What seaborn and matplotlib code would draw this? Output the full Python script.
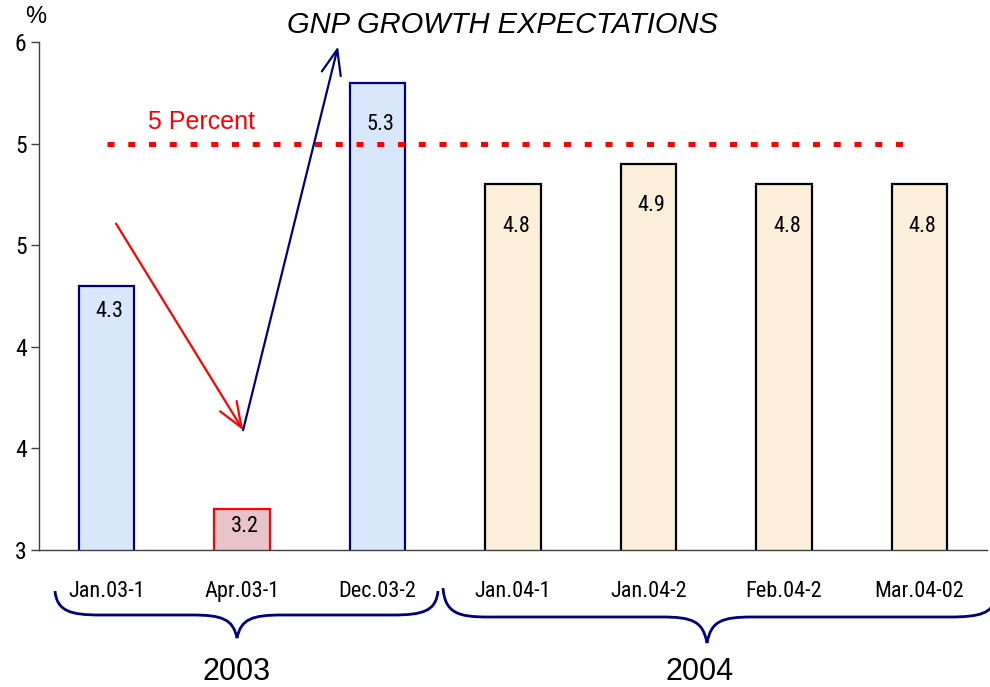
import numpy as np
import pandas as pd
import matplotlib
matplotlib.use("Agg")
import matplotlib.pyplot as plt
import seaborn as sns
from matplotlib.path import Path
from matplotlib.patches import PathPatch

# -----------------------------
# data
# -----------------------------
labels = ["Jan.03-1", "Apr.03-1", "Dec.03-2", "Jan.04-1", "Jan.04-2", "Feb.04-2", "Mar.04-02"]
values = [4.3, 3.2, 5.3, 4.8, 4.9, 4.8, 4.8]
years = ["2003", "2004"]
target = 5.0
ytick_vals = [3, 3.5, 4, 4.5, 5, 5.5]
ytick_labels = ["3", "4", "4", "5", "5", "6"]

# styling
fill_colors = ["#d8e7fb", "#e8c3c7", "#d8e7fb", "#fbefd9", "#fbefd9", "#fbefd9", "#fbefd9"]
edge_colors = ["#00007f", "#ff0000", "#00007f", "#000000", "#000000", "#000000", "#000000"]
label_drop = [26, 17, 42, 42, 42, 42, 42]   # pixels below bar top

sns.set_style("white")
narrow = ["Liberation Sans Narrow", "Roboto Condensed", "Open Sans Condensed",
          "DejaVu Sans Condensed", "Liberation Sans"]
plain = ["Liberation Sans", "DejaVu Sans"]
plt.rcParams["font.family"] = plain
plt.rcParams["text.color"] = "black"
plt.rcParams["xtick.labelcolor"] = "black"
plt.rcParams["ytick.labelcolor"] = "black"

W, H = 990, 687
fig = plt.figure(figsize=(W / 100, H / 100), dpi=100)
ax = fig.add_axes([39 / W, 1 - 550 / H, (987 - 39) / W, (550 - 42) / H])

df = pd.DataFrame({"label": labels, "value": values})
sns.barplot(data=df, x="label", y="value", hue="label", palette=fill_colors,
            saturation=1, width=0.41, legend=False, ax=ax)

for patch, ec in zip(ax.patches, edge_colors):
    patch.set_edgecolor(ec)
    patch.set_linewidth(1.6)

# value labels inside the bars
for i, v in enumerate(values):
    ax.annotate(f"{v:.1f}", (i, v), xytext=(3, -label_drop[i]), textcoords="offset pixels",
                ha="center", va="center", fontsize=16, family=narrow, stretch="condensed")

# 5 percent line
ax.hlines(target, 0.0, 5.95, colors="#ff0000", linewidth=3.6, linestyles=(0, (1.4, 2.75)))
ax.text(0.305, target + 0.108, "5 Percent", color="#ff0000", fontsize=18, va="center", ha="left")

# arrows
ax.annotate("", xy=(1.007, 3.59), xytext=(0.069, 4.606),
            arrowprops=dict(arrowstyle="->,head_length=0.9,head_width=0.35", color="#ff0000",
                            lw=1.6, mutation_scale=20, shrinkA=0, shrinkB=0))
ax.annotate("", xy=(1.708, 5.478), xytext=(1.007, 3.59),
            arrowprops=dict(arrowstyle="->,head_length=0.9,head_width=0.35", color="#00007f",
                            lw=1.6, mutation_scale=20, shrinkA=0, shrinkB=0))

# axes styling
ax.set_xlim(-0.5, len(labels) - 0.5)
ax.set_ylim(3, 5.5)
ax.set_yticks(ytick_vals)
ax.set_yticklabels(ytick_labels, family=narrow, stretch="condensed", fontsize=17)
ax.set_xticks(range(len(labels)))
ax.set_xticklabels(labels, family=narrow, stretch="condensed", fontsize=16)
ax.set_xticks(np.arange(-0.5, len(labels), 1), minor=True)
ax.tick_params(axis="x", which="major", length=0, pad=22)
ax.tick_params(axis="x", which="minor", length=8, width=1, color="#404040", direction="out")
ax.tick_params(axis="y", length=6, width=1, color="#404040", direction="out", pad=3, left=True)
ax.set_xlabel("")
ax.set_ylabel("")
for side in ["top", "right"]:
    ax.spines[side].set_visible(False)
for side in ["left", "bottom"]:
    ax.spines[side].set_color("#404040")
    ax.spines[side].set_linewidth(1)

# title and unit
fig.text(502 / W, 1 - 25 / H, "GNP GROWTH EXPECTATIONS", style="italic", fontsize=21,
         ha="center", va="center")
fig.text(36 / W, 1 - 17 / H, "%", fontsize=17, ha="center", va="center")


# braces under the categories
def brace(xl, xr, yt_l, yt_r, ym, ytip, xc, r=45):
    pts = [
        (xl, yt_l), (xl + 2, ym - 4), (xl + r / 3, ym), (xl + r, ym),
        (xc - r, ym),
        (xc - r / 3, ym), (xc - 4, ym + 4), (xc, ytip),
        (xc + 4, ym + 4), (xc + r / 3, ym), (xc + r, ym),
        (xr - r, ym),
        (xr - r / 3, ym), (xr - 2, ym - 4), (xr, yt_r),
    ]
    codes = [Path.MOVETO, Path.CURVE4, Path.CURVE4, Path.CURVE4,
             Path.LINETO,
             Path.CURVE4, Path.CURVE4, Path.CURVE4,
             Path.CURVE4, Path.CURVE4, Path.CURVE4,
             Path.LINETO,
             Path.CURVE4, Path.CURVE4, Path.CURVE4]
    verts = [(x / W, 1 - y / H) for x, y in pts]
    fig.add_artist(PathPatch(Path(verts, codes), transform=fig.transFigure,
                             fill=False, edgecolor="#00007f", linewidth=2))


brace(55, 438, 591, 591, 615, 638, 237)
brace(443, 995, 588, 598, 617, 643, 707)

fig.text(237 / W, 1 - 672 / H, years[0], fontsize=22, ha="center", va="center")
fig.text(700 / W, 1 - 672 / H, years[1], fontsize=22, ha="center", va="center")

fig.savefig("out.png", dpi=100)
